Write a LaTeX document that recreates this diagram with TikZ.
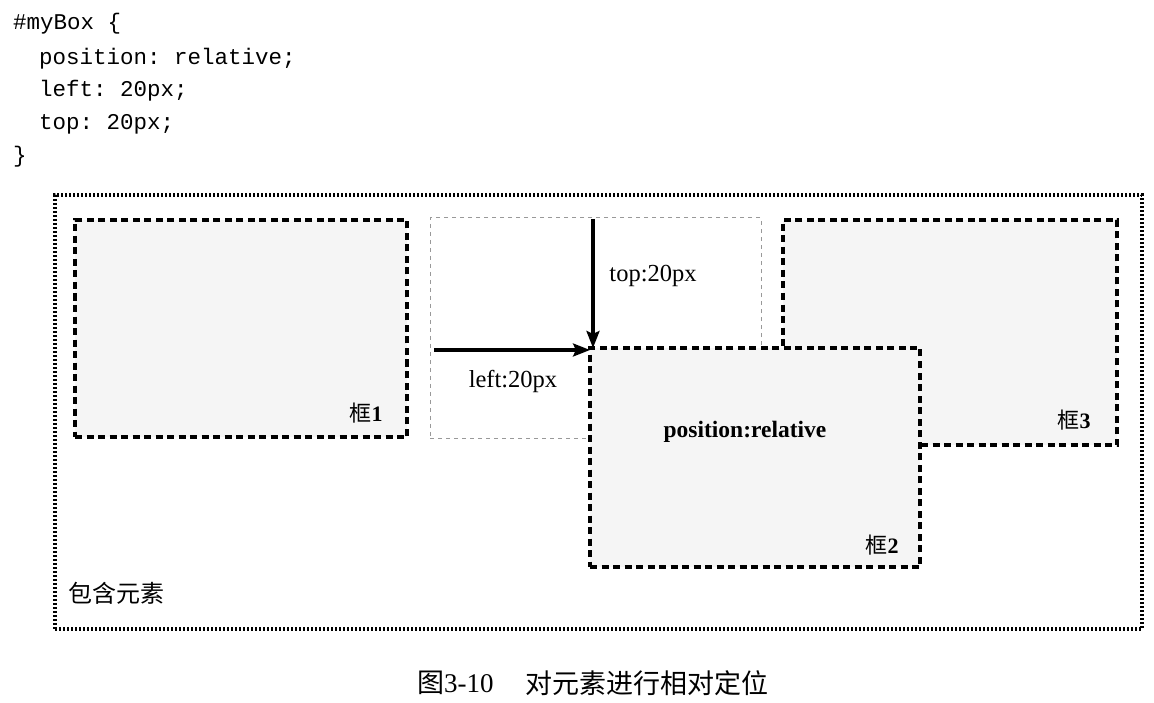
\documentclass[tikz,border=0pt]{standalone}
\usepackage{fontspec}
\setmainfont{Liberation Serif}
\setmonofont{Liberation Mono}
\newfontfamily\cjk{Noto Sans CJK SC}
\usetikzlibrary{arrows.meta}
\begin{document}
\begin{tikzpicture}[x=1pt,y=-1pt,
  box/.style={draw=black, line width=3.4pt, dash pattern=on 7pt off 4.5pt, fill=black!4, inner sep=0pt, outer sep=0pt, anchor=north west},
  ghostbox/.style={draw=black!40, line width=1pt, dash pattern=on 4pt off 4pt, inner sep=0pt, outer sep=0pt, anchor=north west},
  outerbox/.style={draw=black, line width=3.4pt, dash pattern=on 2.2pt off 1.8pt, inner sep=0pt, outer sep=0pt, anchor=north west},
  code/.style={font=\ttfamily\fontsize{22.5}{33}\selectfont, anchor=base west, inner sep=0pt},
  lbl/.style={font=\fontsize{24.5}{27}\selectfont, inner sep=0pt},
  cjklbl/.style={font=\cjk\fontsize{22}{26}\selectfont, inner sep=0pt},
  offsetarrow/.style={line width=3.2pt, -{Stealth[length=17pt,width=13pt,inset=3pt]}}]
\useasboundingbox (0,0) rectangle (1154,703);
% code
\node[code] (c1) at (13,30) {\#myBox \{};
\node[code] (c2) at (39,65) {position: relative;};
\node[code] (c3) at (39,97) {left: 20px;};
\node[code] (c4) at (39,130) {top: 20px;};
\node[code] (c5) at (13,163) {\}};
% boxes
\node[outerbox, minimum width=1087pt, minimum height=434pt] (outer) at (55,195) {};
\node[ghostbox, minimum width=331pt, minimum height=220pt] (ghost) at (430,218) {};
\node[box, minimum width=332pt, minimum height=217pt] (box1) at (75,220) {};
\node[box, minimum width=334pt, minimum height=225pt] (box3) at (783,220) {};
\node[box, minimum width=330pt, minimum height=219pt] (box2) at (590,348) {};
% arrows
\coordinate (vstart) at (593,219);
\coordinate (hstart) at (434,350);
\draw[offsetarrow] (vstart) -- (vstart |- box2.north);
\draw[offsetarrow] (hstart) -- (box2.north west |- hstart);
% labels
\node[lbl] (ltop) at (653,276) {top:20px};
\node[lbl] (lleft) at (513,381) {left:20px};
\node[lbl, font=\bfseries\fontsize{23.5}{27}\selectfont] (lpos) at (745,432) {position:relative};
\node[cjklbl] (l1) at (366,413) {框{\rmfamily\bfseries 1}};
\node[cjklbl] (l2) at (882,545) {框{\rmfamily\bfseries 2}};
\node[cjklbl] (l3) at (1074,420) {框{\rmfamily\bfseries 3}};
\node[cjklbl, font=\cjk\fontsize{24}{26}\selectfont, anchor=west] (lcont) at (68,593) {包含元素};
% caption
\node[cjklbl, font=\cjk\fontsize{27}{30}\selectfont, anchor=west] (cap1) at (417,683) {图{\rmfamily 3-10}};
\node[cjklbl, font=\cjk\fontsize{27}{30}\selectfont, anchor=west] (cap2) at (525,683) {对元素进行相对定位};
\end{tikzpicture}
\end{document}
